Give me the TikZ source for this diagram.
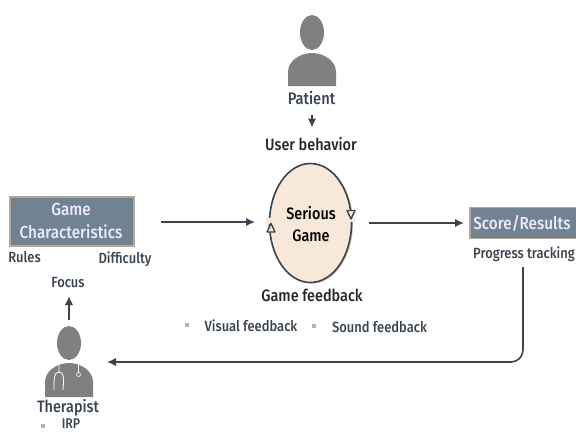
\documentclass[tikz,border=0pt]{standalone}
\usepackage{fontspec}
\setmainfont{Fira Sans}[BoldFont={Fira Sans Medium}]
\usetikzlibrary{arrows.meta,shapes.geometric}
\newcommand{\sq}[1]{\scalebox{0.875}[1]{#1}}
\definecolor{ink}{HTML}{3A444E}
\definecolor{boxfill}{HTML}{718291}
\definecolor{boxedge}{HTML}{B3A79C}
\definecolor{peach}{HTML}{F7E8D9}
\definecolor{person}{HTML}{808080}
\tikzset{
 lab/.style={font=\fontsize{16.5}{18}\selectfont\bfseries, text=black!85, inner sep=0pt},
 sublab/.style={font=\fontsize{14.8}{16}\selectfont\bfseries, text=ink, inner sep=0pt},
 boxlab/.style={font=\fontsize{17.4}{19}\selectfont\bfseries, text=white!92!blue, inner sep=0pt},
 panel/.style={draw=boxedge, fill=boxfill, line width=1.8pt, inner sep=0pt},
 flow/.style={draw=ink, line width=1.9pt, -{Latex[length=9pt,width=8.5pt]}},
 bullet/.style={fill=black!30, minimum size=3.5pt, inner sep=0pt},
 body/.style={fill=person, draw=none}
}
\begin{document}
\begin{tikzpicture}[x=1pt,y=-1pt]
\useasboundingbox (0,0) rectangle (576,432);
% patient
\fill[person] (312,32.5) ellipse [x radius=12, y radius=17.5];
\path[body] (288,86) -- (288,72) .. controls (288,61) and (300,53) .. (312,53) .. controls (324,53) and (336,61) .. (336,72) -- (336,86) -- cycle;
\node[lab,font=\fontsize{16.7}{18}\selectfont\bfseries,text=ink] (patient) at (311.5,98) {\sq{Patient}};
\node[lab] (behavior) at (311,144) {\sq{User behavior}};
\coordinate (pa) at (312,114.5);
\coordinate (pb) at (312,127.5);
\draw[flow,line width=1.5pt] (pa) -- (pb);
% serious game
\fill[boxedge!60!peach] (311.5,223.6) ellipse [x radius=41.5, y radius=60];
\node[draw=ink, fill=peach, ellipse, line width=1.6pt, minimum width=82pt, minimum height=119pt, inner sep=0pt] (game) at (310.5,223) {};
\node[lab, text=black] (serious) at (311,213) {\sq{Serious}};
\node[lab, text=black] (gamew) at (311,235.5) {\sq{Game}};
\fill[peach] (346,218) rectangle (356,222);
\fill[peach] (266,218) rectangle (275,224);
\draw[ink,line width=1.4pt,fill=peach,line join=round] (347,210.5) -- (355,210.5) -- (351,219) -- cycle;
\draw[ink,line width=1.4pt,fill=peach,line join=round] (267,232) -- (275,232) -- (271,223.5) -- cycle;
\node[lab] (feedback) at (312,295) {\sq{Game feedback}};
\node[bullet] (b1) at (187,325) {};
\node[sublab] (visual) at (251,326) {\sq{Visual feedback}};
\node[bullet] (b2) at (314,326) {};
\node[sublab] (sound) at (379.5,327) {\sq{Sound feedback}};
% game characteristics
\node[panel, minimum width=124pt, minimum height=49.5pt] (gc) at (72,221.5) {};
\node[boxlab] (gc1) at (71,209) {\sq{Game}};
\node[boxlab] (gc2) at (71,232) {\sq{Characteristics}};
\node[sublab] (rules) at (24.5,257) {\sq{Rules}};
\node[sublab] (diff) at (125,259) {\sq{Difficulty}};
\node[sublab] (focus) at (68,282) {\sq{Focus}};
% score
\node[panel, anchor=west, minimum width=112pt, minimum height=31pt] (score) at (469,223) {};
\node[boxlab] (sr) at (522,223) {\sq{Score/Results}};
\node[sublab] (progress) at (524,254) {\sq{Progress tracking}};
% therapist
\fill[person] (69,343) ellipse [x radius=12, y radius=17];
\path[body] (45,397) -- (45,382) .. controls (45,371) and (57,363) .. (69,363) .. controls (81,363) and (93,371) .. (93,382) -- (93,397) -- cycle;
\draw[white,line width=.8pt] (59,365) -- (59,372) .. controls (54,372) and (54,378) .. (54,390);
\draw[white,line width=.8pt] (59,372) .. controls (64,372) and (64,378) .. (63,390);
\draw[white,line width=.7pt] (78.5,365) -- (78.5,372);
\draw[white,line width=.6pt] (78.5,374.5) circle (2pt);
\node[lab,text=ink] (therapist) at (68,408) {\sq{Therapist}};
\node[bullet] (b3) at (43,426) {};
\node[sublab,font=\fontsize{14}{15}\selectfont\bfseries] (irp) at (71,423.5) {\sq{IRP}};
% connectors
\coordinate (a1) at (161,222);
\coordinate (a2) at (255,222);
\coordinate (a3) at (369,223);
\coordinate (a4) at (464,223);
\coordinate (a5) at (69,320);
\coordinate (a6) at (69,296);
\coordinate (a7) at (523,267);
\coordinate (a8) at (107,362);
\draw[flow] (a1) -- (a2);
\draw[flow] (a3) -- (a4);
\draw[flow,line width=1.6pt] (a5) -- (a6);
\draw[flow,line width=1.6pt] (a7) -- (523,350) arc[start angle=0,end angle=90,radius=12] -- (a8);
\end{tikzpicture}
\end{document}
